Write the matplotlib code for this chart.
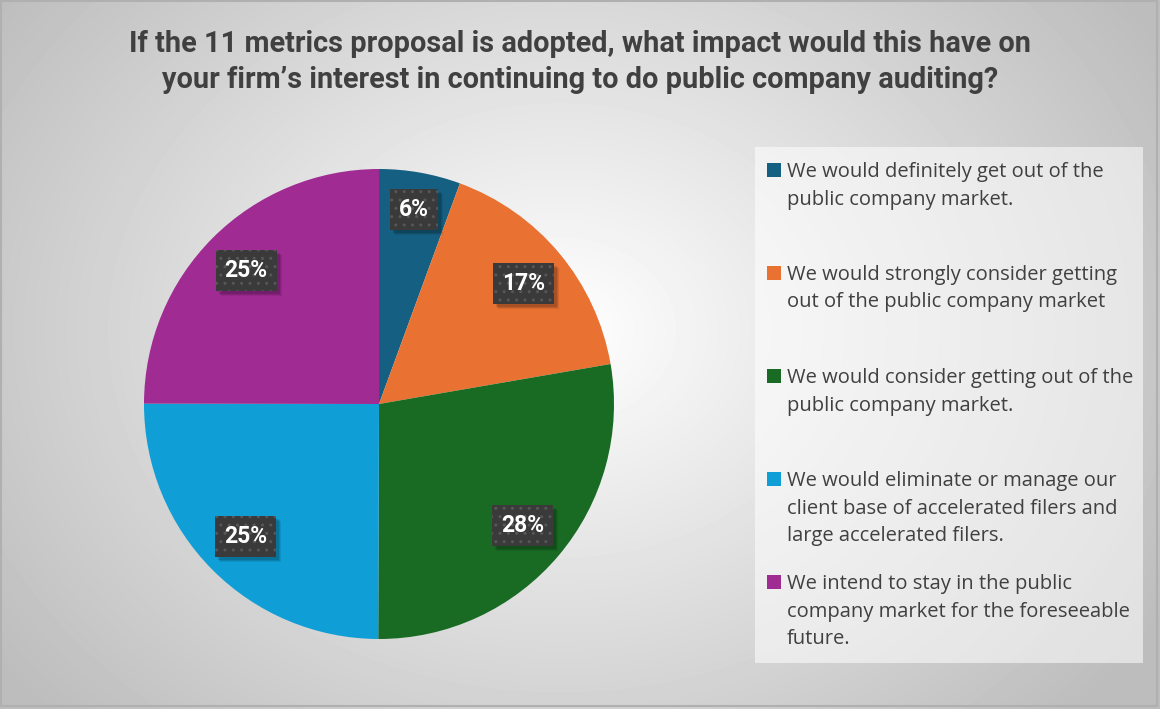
import matplotlib.pyplot as plt
import numpy as np
from matplotlib.patches import Rectangle

title = ("If the 11 metrics proposal is adopted, what impact would this have on\n"
         "your firm\u2019s interest in continuing to do public company auditing?")
answers = [
    "We would definitely get out of the\npublic company market.",
    "We would strongly consider getting\nout of the public company market",
    "We would consider getting out of the\npublic company market.",
    "We would eliminate or manage our\nclient base of accelerated filers and\nlarge accelerated filers.",
    "We intend to stay in the public\ncompany market for the foreseeable\nfuture.",
]
shares = [5.6, 16.7, 27.8, 25.0, 25.0]
shown = ['6%', '17%', '28%', '25%', '25%']
colors = ['#156082', '#e97132', '#196b24', '#0f9ed5', '#a02b93']
label_r = [0.84, 0.8, 0.8, 0.8, 0.8]

W, H = 1160, 709
fig = plt.figure(figsize=(W / 100, H / 100), dpi=100)

# radial grey background
bg = fig.add_axes([0, 0, 1, 1])
yy, xx = np.mgrid[0:H, 0:W]
d = np.hypot((xx - 560) / 700, (yy - 330) / 560)
shade = np.clip(1 - 0.26 * d, 0.74, 1)
bg.imshow(shade, cmap='gray', vmin=0, vmax=1, extent=[0, W, H, 0], aspect='auto')
bg.add_patch(Rectangle((1, 1), W - 4, H - 4, fill=False, edgecolor='#b0b0b0', lw=1.5))
bg.set_xlim(0, W)
bg.set_ylim(H, 0)
bg.axis('off')

fig.text(0.5, 1 - 62 / H, title, ha='center', va='center', fontsize=20.8,
         fontweight='bold', color='#404040', family='Roboto', linespacing=1.38)

# pie
cx, cy, r = 379, 404, 235
ax = fig.add_axes([(cx - r) / W, (H - cy - r) / H, 2 * r / W, 2 * r / H])
wedges, _ = ax.pie(shares, colors=colors, startangle=90, counterclock=False,
                   radius=1)
ax.set_xlim(-1, 1)
ax.set_ylim(-1, 1)
ax.set_aspect('auto')
texts = []
for w, lab, lr in zip(wedges, shown, label_r):
    mid = np.deg2rad((w.theta1 + w.theta2) / 2)
    t = ax.text(lr * np.cos(mid), lr * np.sin(mid), lab, ha='center', va='center',
                fontsize=16.5, fontweight='bold', color='white', family='Roboto',
                zorder=5)
    texts.append(t)

# dark label boxes sized in pixels around each label, with a soft shadow
fig.canvas.draw()
px = 2.0 / (2 * r)  # data units per pixel
for t in texts:
    bb = t.get_window_extent()
    x, y = t.get_position()
    bw = (bb.width + 18) * px
    bh = 41 * px
    for k, a in [(5, 0.08), (4, 0.1), (3, 0.12)]:
        ax.add_patch(Rectangle((x - bw / 2 + k * px, y - bh / 2 - k * px), bw, bh,
                               facecolor='black', alpha=a, edgecolor='none', zorder=3))
    ax.add_patch(Rectangle((x - bw / 2, y - bh / 2), bw, bh, facecolor='#3a3a3a',
                           edgecolor='#575757', hatch='..', lw=0, zorder=4))

# legend
bg.add_patch(Rectangle((755, 147), 388, 516, facecolor='white', alpha=0.55,
                       edgecolor='none'))
for i, (txt, col) in enumerate(zip(answers, colors)):
    y0 = 163 + i * 103
    bg.add_patch(Rectangle((767, y0), 14, 14, facecolor=col, edgecolor='none'))
    bg.text(787, y0 - 1, txt, ha='left', va='top', fontsize=14.5, color='#404040',
            family='Open Sans', linespacing=1.5)

fig.savefig('out.png', dpi=100)
